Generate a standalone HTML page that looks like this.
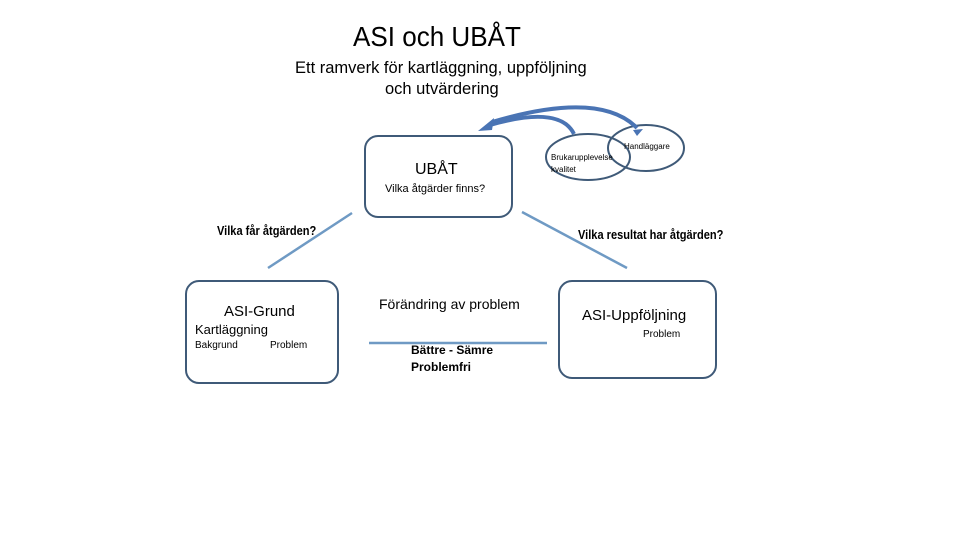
<!DOCTYPE html>
<html><head><meta charset="utf-8"><style>
body{margin:0;width:960px;height:540px;background:#fff;position:relative;overflow:hidden;font-family:"Liberation Sans","DejaVu Sans",sans-serif;color:#000}
.t{position:absolute;white-space:nowrap}
.b{position:absolute;border:2px solid #3f5a78;border-radius:14px;box-sizing:border-box}
</style></head><body>
<div class="t" style="left:353px;top:21px;font-size:28px;transform:scaleX(0.93);transform-origin:left">ASI och UBÅT</div>
<div class="t" style="left:295px;top:59px;font-size:16.5px">Ett ramverk för kartläggning, uppföljning</div>
<div class="t" style="left:385px;top:80px;font-size:16.5px">och utvärdering</div>

<div class="b" style="left:364px;top:135px;width:149px;height:83px"></div>
<div class="t" style="left:415px;top:161px;font-size:16px">UBÅT</div>
<div class="t" style="left:385px;top:183px;font-size:11px">Vilka åtgärder finns?</div>

<div class="b" style="left:185px;top:280px;width:154px;height:104px"></div>
<div class="t" style="left:224px;top:303px;font-size:15px">ASI-Grund</div>
<div class="t" style="left:195px;top:322px;font-size:13px">Kartläggning</div>
<div class="t" style="left:195px;top:340px;font-size:10px">Bakgrund</div>
<div class="t" style="left:270px;top:340px;font-size:10px">Problem</div>

<div class="b" style="left:558px;top:280px;width:159px;height:99px"></div>
<div class="t" style="left:582px;top:307px;font-size:15px">ASI-Uppföljning</div>
<div class="t" style="left:643px;top:329px;font-size:10px">Problem</div>

<div class="t" style="left:217px;top:223px;font-size:13px;font-weight:bold;transform:scaleX(0.85);transform-origin:left">Vilka får åtgärden?</div>
<div class="t" style="left:578px;top:227px;font-size:13px;font-weight:bold;transform:scaleX(0.85);transform-origin:left">Vilka resultat har åtgärden?</div>
<div class="t" style="left:379px;top:296px;font-size:14px">Förändring av problem</div>
<div class="t" style="left:411px;top:342px;font-size:12px;font-weight:bold;line-height:17px">Bättre - Sämre<br>Problemfri</div>

<svg width="960" height="540" style="position:absolute;left:0;top:0">
<g stroke="#6f9ac4" stroke-width="2.5" fill="none">
<line x1="352" y1="213" x2="268" y2="268"/>
<line x1="522" y1="212" x2="627" y2="268"/>
<line x1="369" y1="343" x2="547" y2="343"/>
</g>
<g stroke="#3f5a78" stroke-width="2" fill="none">
<ellipse cx="588" cy="157" rx="42" ry="23"/>
<ellipse cx="646" cy="148" rx="38" ry="23"/>
</g>
<g stroke="#4a74b4" stroke-width="4" fill="none">
<path d="M574 134 Q560 105 490 125"/>
<path d="M637 128 Q600 90 492 122"/>
</g>
<path d="M478 131 L494 118 L492 130 Z" fill="#4a74b4"/>
<path d="M633 130 L643 129 L637 136 Z" fill="#4a74b4"/>
</svg>
<div class="t" style="left:551px;top:152px;font-size:8px;line-height:12px">Brukarupplevelse<br>kvalitet</div>
<div class="t" style="left:624px;top:142px;font-size:8px">Handläggare</div>
</body></html>
